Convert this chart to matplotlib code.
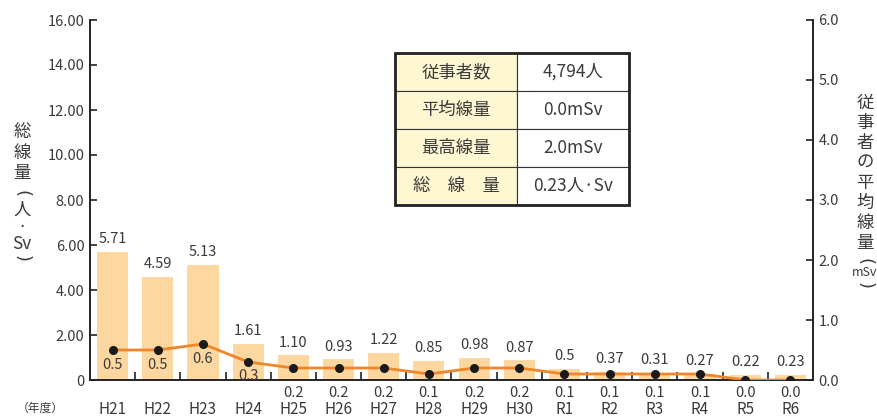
import matplotlib
matplotlib.use("Agg")
import matplotlib.pyplot as plt
import matplotlib.transforms as mtrans
import numpy as np

plt.rcParams['font.family'] = ['Noto Sans CJK JP', 'DejaVu Sans']

# data
years = ["H21", "H22", "H23", "H24", "H25", "H26", "H27", "H28", "H29", "H30",
         "R1", "R2", "R3", "R4", "R5", "R6"]
totalDose = [5.71, 4.59, 5.13, 1.61, 1.10, 0.93, 1.22, 0.85, 0.98, 0.87,
             0.5, 0.37, 0.31, 0.27, 0.22, 0.23]
avgDose = [0.5, 0.5, 0.6, 0.3, 0.2, 0.2, 0.2, 0.1, 0.2, 0.2,
           0.1, 0.1, 0.1, 0.1, 0.0, 0.0]
tableKeys = ["従事者数", "平均線量", "最高線量", "総　線　量"]
tableVals = ["4,794人", "0.0mSv", "2.0mSv", "0.23人·Sv"]

txtColor = "#3a3a3a"
barColor = "#fdd7a0"
lineColor = "#f0852a"

W, H = 878, 419
fig = plt.figure(figsize=(W/100, H/100), dpi=100)
ax = fig.add_axes([90/W, 39/H, 723/W, 360/H])
ax2 = ax.twinx()

#place text at pixel coords from top-left
def ptext(px, py, s, **kw):
    kw.setdefault("color", txtColor)
    kw.setdefault("ha", "center")
    kw.setdefault("va", "center")
    fig.text(px/W, 1 - py/H, s, **kw)

x = np.arange(len(years))
ax.bar(x, totalDose, width=0.69, color=barColor, zorder=1)
for xi, v in zip(x, totalDose):
    ax.annotate("%.2f" % v if v != 0.5 else "0.5", (xi, v), xytext=(0, 4),
                textcoords="offset points", ha="center", va="bottom",
                fontsize=10.5, color=txtColor)

ax2.plot(x, avgDose, color=lineColor, lw=2, zorder=3)
ax2.plot(x, avgDose, "o", color="#1a1a1a", ms=5.5, zorder=4)
trans = mtrans.blended_transform_factory(ax2.transData, ax2.transAxes)
for xi, v in zip(x, avgDose):
    if xi < 3:
        ax2.annotate("%.1f" % v, (xi, v), xytext=(0, -6), textcoords="offset points",
                     ha="center", va="top", fontsize=10.5, color=txtColor)
    elif xi == 3:
        ax2.annotate("%.1f" % v, (xi, v), xytext=(0, -5), textcoords="offset points",
                     ha="center", va="top", fontsize=10.5, color=txtColor)
    else:
        ax2.text(xi, -0.036, "%.1f" % v, transform=trans, ha="center", va="center",
                 fontsize=10.5, color=txtColor)

ax.set_xlim(-0.5, len(years) - 0.5)
ax.set_ylim(0, 16)
ax2.set_ylim(0, 6)
ax.set_yticks(np.arange(0, 17, 2))
ax.set_yticklabels(["0"] + ["%.2f" % v for v in np.arange(2, 17, 2)])
ax2.set_yticks(np.arange(0, 7, 1))
ax2.set_yticklabels(["%.1f" % v for v in np.arange(0, 7, 1)])
ax.set_xticks(x)
ax.set_xticklabels(years)
ax.set_xticks(x[:-1] + 0.5, minor=True)

for a in (ax, ax2):
    a.spines["top"].set_visible(False)
    for s in ["left", "right", "bottom"]:
        a.spines[s].set_color("#222222")
        a.spines[s].set_linewidth(1.2)
ax.tick_params(axis="y", direction="in", length=5, width=1.2, color="#222222",
               labelsize=10.5, labelcolor=txtColor, pad=4)
ax2.tick_params(axis="y", direction="in", length=5, width=1.2, color="#222222",
                labelsize=10.5, labelcolor=txtColor, pad=4)
ax.tick_params(axis="x", which="major", length=0, labelsize=11, labelcolor=txtColor, pad=15)
ax.tick_params(axis="x", which="minor", direction="in", length=6, width=1.2, color="#222222")
ax.set_zorder(ax2.get_zorder() - 1)
ax2.patch.set_visible(False)

ptext(40, 408, "（年度）", fontsize=8.5)

# vertical axis titles, one glyph at a time; brackets are rotated parens
leftTitle = [("総", 132), ("線", 153), ("量", 173), ("人", 210), ("Sv", 244)]
for s, py in leftTitle:
    ptext(22, py, s, fontsize=12.5)
ptext(22, 227, "·", fontsize=12, family="DejaVu Sans")
ptext(22, 193, "(", fontsize=13, rotation=-90, family="DejaVu Sans")
ptext(22, 258, ")", fontsize=13, rotation=-90, family="DejaVu Sans")
rightTitle = [("従", 103), ("事", 123), ("者", 143), ("の", 163), ("平", 183),
              ("均", 203), ("線", 223), ("量", 243)]
for s, py in rightTitle:
    ptext(865, py, s, fontsize=12.5)
ptext(865, 262, "(", fontsize=13, rotation=-90, family="DejaVu Sans")
ptext(865, 273, "mSv", fontsize=9)
ptext(865, 285, ")", fontsize=13, rotation=-90, family="DejaVu Sans")

# summary table
tx0, tx1, tx2 = 395, 517, 629
ty0, rh = 53, 38
for i, (k, v) in enumerate(zip(tableKeys, tableVals)):
    y = ty0 + i * rh
    fig.patches.append(plt.Rectangle((tx0/W, 1 - (y + rh)/H), (tx1 - tx0)/W, rh/H,
                                     transform=fig.transFigure, facecolor="#fff7d2",
                                     edgecolor="#333333", lw=0.8))
    fig.patches.append(plt.Rectangle((tx1/W, 1 - (y + rh)/H), (tx2 - tx1)/W, rh/H,
                                     transform=fig.transFigure, facecolor="white",
                                     edgecolor="#333333", lw=0.8))
    ptext((tx0 + tx1)/2, y + rh/2, k, fontsize=12.5)
    ptext((tx1 + tx2)/2, y + rh/2, v, fontsize=12.5)
fig.patches.append(plt.Rectangle((tx0/W, 1 - (ty0 + 4*rh)/H), (tx2 - tx0)/W, 4*rh/H,
                                 transform=fig.transFigure, facecolor="none",
                                 edgecolor="#222222", lw=2))

fig.savefig("out.png", dpi=100)
